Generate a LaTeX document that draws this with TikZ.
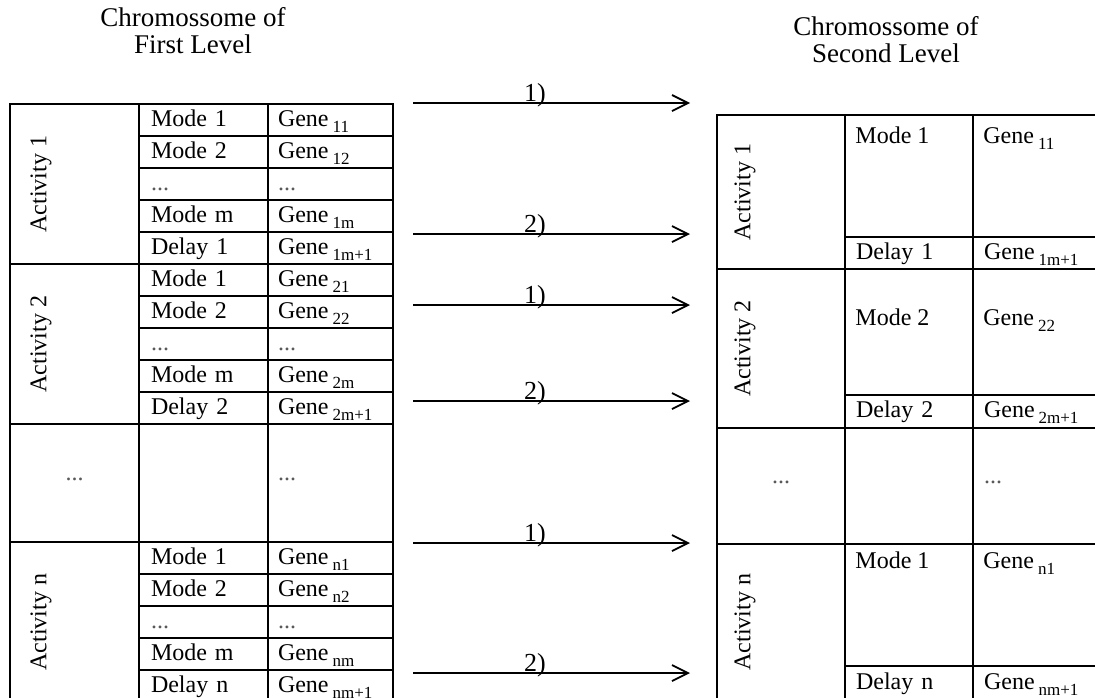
\documentclass[tikz,border=0pt]{standalone}
\usepackage{fontspec}
\setmainfont{Liberation Serif}
\usetikzlibrary{arrows.meta}
\newcommand{\px}{0.5pt}
\newcommand{\gn}[1]{Gene\,\raisebox{-3pt}{\fontsize{8.5}{9}\selectfont #1}}
\newcommand{\dotrow}{\textcolor{black!65}{...}}

\begin{document}
\begin{tikzpicture}[x=\px, y=-\px,
    cell/.style={draw, rectangle, anchor=north west, line width=1pt, inner sep=0pt, font=\fontsize{12}{14}\selectfont, text height=8.5pt, text depth=2.5pt},
    actbox/.style={cell, minimum width=64.5pt},
    modebox/.style={cell, minimum height=16pt, inner xsep=6pt, text width=52.5pt, align=left},
    genebox/.style={cell, minimum height=16pt, inner xsep=5pt, text width=52.5pt, align=left},
    actbox2/.style={cell, minimum width=64pt},
    modebox2/.style={cell, minimum height=16pt, inner xsep=5.5pt, text width=53pt, align=left},
    genebox2/.style={cell, minimum height=16pt, inner xsep=5.5pt, text width=51.5pt, align=left},
    txt/.style={inner sep=0pt, font=\fontsize{12}{14}\selectfont},
    actlbl/.style={txt, rotate=90},
    title/.style={align=center, font=\fontsize{13.5}{13.5}\selectfont},
    flow/.style={line width=0.9pt, -{Straight Barb[length=8pt, width=8pt]}},
    stepno/.style={inner sep=0pt, anchor=base, yshift=1pt, font=\fontsize{13}{14}\selectfont}]
    \useasboundingbox (0,0) rectangle (1095,697);

    % Titles
    \node[title] (title-1) at (193,31) {Chromossome of\\First Level};
    \node[title] (title-2) at (886,40) {Chromossome of\\Second Level};

    % First level, activity 1
    \node[actbox, minimum height=80pt] (l-act1) at (9,103) {};
    \node[actlbl] (l-act1-t) at ([xshift=16pt]l-act1.west) {Activity 1};
    \node[modebox] (l-m11) at (138,103) {Mode 1};
    \node[genebox] (l-g11) at (267,103) {\gn{11}};
    \node[modebox] (l-m12) at (138,135) {Mode 2};
    \node[genebox] (l-g12) at (267,135) {\gn{12}};
    \node[modebox] (l-m1x) at (138,167) {\dotrow};
    \node[genebox] (l-g1x) at (267,167) {\dotrow};
    \node[modebox] (l-m1m) at (138,199) {Mode m};
    \node[genebox] (l-g1m) at (267,199) {\gn{1m}};
    \node[modebox] (l-d1) at (138,231) {Delay 1};
    \node[genebox] (l-gd1) at (267,231) {\gn{1m+1}};

    % First level, activity 2
    \node[actbox, minimum height=80pt] (l-act2) at (9,263) {};
    \node[actlbl] (l-act2-t) at ([xshift=16pt]l-act2.west) {Activity 2};
    \node[modebox] (l-m21) at (138,263) {Mode 1};
    \node[genebox] (l-g21) at (267,263) {\gn{21}};
    \node[modebox] (l-m22) at (138,295) {Mode 2};
    \node[genebox] (l-g22) at (267,295) {\gn{22}};
    \node[modebox] (l-m2x) at (138,327) {\dotrow};
    \node[genebox] (l-g2x) at (267,327) {\dotrow};
    \node[modebox] (l-m2m) at (138,359) {Mode m};
    \node[genebox] (l-g2m) at (267,359) {\gn{2m}};
    \node[modebox] (l-d2) at (138,391) {Delay 2};
    \node[genebox] (l-gd2) at (267,391) {\gn{2m+1}};

    % First level, more activities
    \node[actbox, minimum height=59pt] (l-actx) at (9,423) {\raisebox{4.5pt}{\dotrow}};
    \node[modebox, minimum height=59pt] (l-mx) at (138,423) {};
    \node[genebox, minimum height=59pt] (l-gx) at (267,423) {\raisebox{4.5pt}{\dotrow}};

    % First level, activity n
    \node[actbox, minimum height=80pt] (l-actn) at (9,541) {};
    \node[actlbl] (l-actn-t) at ([xshift=16pt]l-actn.west) {Activity n};
    \node[modebox] (l-mn1) at (138,541) {Mode 1};
    \node[genebox] (l-gn1) at (267,541) {\gn{n1}};
    \node[modebox] (l-mn2) at (138,573) {Mode 2};
    \node[genebox] (l-gn2) at (267,573) {\gn{n2}};
    \node[modebox] (l-mnx) at (138,605) {\dotrow};
    \node[genebox] (l-gnx) at (267,605) {\dotrow};
    \node[modebox] (l-mnm) at (138,637) {Mode m};
    \node[genebox] (l-gnm) at (267,637) {\gn{nm}};
    \node[modebox] (l-dn) at (138,669) {Delay n};
    \node[genebox] (l-gdn) at (267,669) {\gn{nm+1}};

    % Second level, activity 1
    \node[actbox2, minimum height=77pt] (r-act1) at (716,114) {};
    \node[actlbl] (r-act1-t) at ([xshift=14.5pt]r-act1.west) {Activity 1};
    \node[modebox2, minimum height=61pt] (r-m11) at (844,114) {};
    \node[genebox2, minimum height=61pt] (r-g11) at (972,114) {};
    \node[txt, anchor=base west] (r-m11-t) at ([xshift=5.5pt, yshift=-14.5pt]r-m11.north west) {Mode 1};
    \node[txt, anchor=base west] (r-g11-t) at ([xshift=5.5pt, yshift=-14.5pt]r-g11.north west) {\gn{11}};
    \node[modebox2] (r-d1) at (844,236) {Delay 1};
    \node[genebox2] (r-gd1) at (972,236) {\gn{1m+1}};

    % Second level, activity 2
    \node[actbox2, minimum height=79.5pt] (r-act2) at (716,268) {};
    \node[actlbl] (r-act2-t) at ([xshift=14.5pt]r-act2.west) {Activity 2};
    \node[modebox2, minimum height=63pt] (r-m22) at (844,268) {};
    \node[genebox2, minimum height=63pt] (r-g22) at (972,268) {};
    \node[txt, anchor=base west] (r-m22-t) at ([xshift=5.5pt, yshift=-28.5pt]r-m22.north west) {Mode 2};
    \node[txt, anchor=base west] (r-g22-t) at ([xshift=5.5pt, yshift=-28.5pt]r-g22.north west) {\gn{22}};
    \node[modebox2, minimum height=16.5pt] (r-d2) at (844,394) {Delay 2};
    \node[genebox2, minimum height=16.5pt] (r-gd2) at (972,394) {\gn{2m+1}};

    % Second level, more activities
    \node[actbox2, minimum height=58pt] (r-actx) at (716,427) {\raisebox{4.5pt}{\dotrow}};
    \node[modebox2, minimum height=58pt] (r-mx) at (844,427) {};
    \node[genebox2, minimum height=58pt] (r-gx) at (972,427) {\raisebox{4.5pt}{\dotrow}};

    % Second level, activity n
    \node[actbox2, minimum height=78pt] (r-actn) at (716,543) {};
    \node[actlbl] (r-actn-t) at ([xshift=14.5pt]r-actn.west) {Activity n};
    \node[modebox2, minimum height=61pt] (r-mn1) at (844,543) {};
    \node[genebox2, minimum height=61pt] (r-gn1) at (972,543) {};
    \node[txt, anchor=base west] (r-mn1-t) at ([xshift=5.5pt, yshift=-12.5pt]r-mn1.north west) {Mode 1};
    \node[txt, anchor=base west] (r-gn1-t) at ([xshift=5.5pt, yshift=-12.5pt]r-gn1.north west) {\gn{n1}};
    \node[modebox2, minimum height=17pt] (r-dn) at (844,665) {Delay n};
    \node[genebox2, minimum height=17pt] (r-gdn) at (972,665) {\gn{nm+1}};

    % Arrows between the levels
    \foreach \y/\k [count=\i] in {103/1, 234/2, 305/1, 401/2, 543/1, 673/2} {
        \coordinate (from-\i) at (413,\y);
        \coordinate (to-\i) at (690,\y);
        \draw[flow] (from-\i) -- (to-\i) node[stepno, pos=0.44] (lbl-\i) {\k)};
    }
\end{tikzpicture}
\end{document}
